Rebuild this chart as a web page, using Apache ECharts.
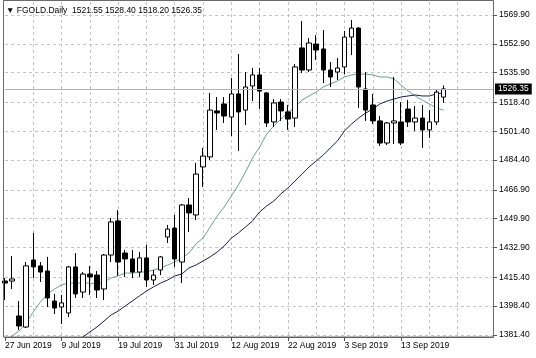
<!DOCTYPE html>
<html>
<head>
<meta charset="utf-8">
<script src="https://cdn.jsdelivr.net/npm/echarts@6/dist/echarts.min.js"></script>
<style>html,body{margin:0;padding:0;background:#fff}#c{width:536px;height:358px}</style>
</head>
<body>
<div id="c"></div>
<script>
const dates = ['27 Jun 2019','28 Jun 2019','1 Jul 2019','2 Jul 2019','3 Jul 2019','4 Jul 2019','5 Jul 2019','8 Jul 2019',
'9 Jul 2019','10 Jul 2019','11 Jul 2019','12 Jul 2019','15 Jul 2019','16 Jul 2019','17 Jul 2019','18 Jul 2019',
'19 Jul 2019','22 Jul 2019','23 Jul 2019','24 Jul 2019','25 Jul 2019','26 Jul 2019','29 Jul 2019','30 Jul 2019',
'31 Jul 2019','1 Aug 2019','2 Aug 2019','5 Aug 2019','6 Aug 2019','7 Aug 2019','8 Aug 2019','9 Aug 2019',
'12 Aug 2019','13 Aug 2019','14 Aug 2019','15 Aug 2019','16 Aug 2019','19 Aug 2019','20 Aug 2019','21 Aug 2019',
'22 Aug 2019','23 Aug 2019','26 Aug 2019','27 Aug 2019','28 Aug 2019','29 Aug 2019','30 Aug 2019','2 Sep 2019',
'3 Sep 2019','4 Sep 2019','5 Sep 2019','6 Sep 2019','9 Sep 2019','10 Sep 2019','11 Sep 2019','12 Sep 2019',
'13 Sep 2019','16 Sep 2019','17 Sep 2019','18 Sep 2019','19 Sep 2019','20 Sep 2019','23 Sep 2019'];
const emptySlots = 7;

const opens = [1413.2,1413.2,1392.6,1386.1,1425.6,1422.1,1419.1,1401.4,
1397.9,1394.4,1421.5,1406.7,1417.3,1416.7,1408.5,1428.5,
1448.6,1429.7,1426.2,1418.5,1426.8,1413.8,1419.7,1439.1,
1444.4,1424.4,1458.0,1452.1,1480.4,1486.3,1513.4,1517.5,
1509.8,1523.4,1513.9,1528.1,1534.6,1524.0,1506.9,1518.6,
1512.8,1509.2,1550.5,1537.5,1552.8,1549.9,1537.5,1536.3,
1539.3,1556.9,1562.2,1526.3,1516.9,1507.5,1494.5,1506.3,
1506.9,1514.5,1506.9,1509.2,1502.2,1506.9,1521.55];
const highs = [1415.0,1427.9,1401.4,1424.4,1441.5,1424.4,1427.4,1405.6,
1405.0,1422.1,1429.7,1418.5,1422.1,1419.1,1429.1,1450.3,
1455.0,1431.5,1431.5,1430.3,1434.4,1419.7,1427.9,1446.2,
1452.1,1458.6,1462.1,1482.7,1491.6,1524.0,1521.6,1521.6,
1532.8,1546.9,1536.3,1538.7,1538.7,1524.5,1520.4,1520.4,
1516.9,1541.0,1566.4,1556.4,1558.1,1561.1,1542.2,1544.6,
1560.5,1567.0,1562.8,1536.3,1523.4,1510.4,1506.9,1533.4,
1518.6,1519.8,1516.3,1516.9,1513.9,1526.3,1528.40];
const lows = [1402.0,1408.5,1384.4,1385.5,1415.0,1412.6,1397.9,1393.8,
1387.9,1392.0,1403.2,1403.2,1405.0,1403.2,1402.0,1424.4,
1416.2,1415.6,1415.0,1415.6,1409.7,1410.9,1416.7,1435.6,
1421.5,1412.0,1442.1,1449.1,1468.6,1484.5,1502.2,1506.3,
1498.6,1489.8,1505.1,1519.2,1514.5,1503.9,1503.9,1507.5,
1502.2,1503.9,1535.7,1536.3,1543.4,1529.8,1527.5,1531.6,
1535.1,1546.3,1515.1,1507.5,1505.7,1492.7,1493.3,1493.9,
1493.3,1503.9,1501.6,1491.6,1497.5,1505.1,1518.20];
const closes = [1412.0,1414.4,1386.7,1422.1,1421.5,1418.5,1403.2,1397.3,
1400.3,1421.5,1405.6,1417.3,1415.6,1407.9,1428.5,1448.0,
1424.4,1426.2,1418.5,1426.8,1413.8,1416.7,1427.4,1443.8,
1426.2,1458.0,1453.3,1476.2,1486.8,1513.9,1512.2,1510.4,
1523.4,1512.8,1527.5,1534.6,1525.1,1506.3,1518.1,1513.4,
1508.6,1539.3,1537.5,1553.4,1549.3,1537.5,1533.4,1538.7,
1556.9,1562.2,1527.5,1513.9,1507.5,1494.5,1506.3,1507.5,
1494.5,1506.9,1509.2,1502.2,1506.9,1524.5,1526.35];

const maFast = [1377.3,1380.8,1383.8,1388.5,1395.0,1400.8,1405.6,1408.5,
1410.9,1412.0,1412.0,1412.0,1412.0,1411.4,1412.6,1415.0,
1416.2,1417.9,1417.9,1418.5,1418.5,1419.7,1420.9,1422.6,
1424.4,1426.8,1429.7,1435.0,1438.5,1445.0,1451.5,1456.8,
1463.3,1469.8,1477.4,1485.7,1492.1,1499.8,1504.5,1508.6,
1512.2,1515.7,1519.8,1522.2,1524.5,1527.5,1529.3,1531.0,
1533.4,1534.6,1535.1,1535.1,1534.6,1533.4,1533.4,1532.2,
1528.7,1525.1,1522.2,1519.8,1517.5,1515.1,1513.9];
const maSlow = [null,null,null,null,null,null,null,null,
null,1373.7,1376.7,1380.2,1383.2,1386.1,1389.6,1393.2,
1395.5,1398.5,1401.4,1404.4,1407.3,1409.7,1412.0,1413.8,
1416.2,1417.3,1420.9,1422.6,1425.0,1427.4,1430.3,1433.8,
1438.5,1441.5,1445.0,1448.6,1453.9,1457.4,1460.3,1464.5,
1468.0,1472.1,1476.2,1480.4,1483.9,1487.4,1491.6,1495.7,
1501.6,1505.7,1509.2,1512.2,1514.5,1517.5,1519.2,1520.4,
1521.6,1522.2,1522.8,1522.2,1522.2,1523.4,1524.0];

const priceTicks = [1381.40,1398.40,1415.40,1432.90,1449.90,1466.90,1484.40,1501.40,1518.40,1535.90,1552.90,1569.90];
const symbolName = 'FGOLD.Daily';

const categories = dates.concat(new Array(emptySlots).fill(''));
const last = closes.length - 1;
const candleData = opens.map((o, i) => [o, closes[i], lows[i], highs[i]]);
const header = '\u25BC ' + symbolName + '  ' + opens[last].toFixed(2) + ' ' + highs[last].toFixed(2) + ' ' +
  lows[last].toFixed(2) + ' ' + closes[last].toFixed(2);

const FONT = 'Liberation Sans';
const chart = echarts.init(document.getElementById('c'), null, {renderer: 'canvas'});
chart.setOption({
  animation: false,
  backgroundColor: '#ffffff',
  grid: {left: 5, right: 43, top: 2, bottom: 21, containLabel: false},
  xAxis: {
    type: 'category',
    data: categories,
    boundaryGap: false,
    axisLine: {show: true, lineStyle: {color: '#555', width: 1}},
    axisTick: {show: true, length: 4, interval: (i) => i % 8 === 0 && i < dates.length, lineStyle: {color: '#555'}},
    axisLabel: {
      interval: (i) => i % 8 === 0 && i < dates.length,
      align: 'left', margin: 4, padding: [0, 0, 0, 0],
      fontFamily: FONT, fontSize: 8.5, color: '#000'
    },
    splitLine: {show: true, interval: (i) => i % 4 === 0 && i > 0 && i < 68,
      lineStyle: {color: '#c4c4c4', type: [3, 3], width: 1}}
  },
  yAxis: {
    type: 'value',
    position: 'right',
    min: 1380.22,
    max: 1577.56,
    axisLine: {show: true, lineStyle: {color: '#555', width: 1}},
    axisTick: {show: true, length: 4, customValues: priceTicks, lineStyle: {color: '#555'}},
    axisLabel: {customValues: priceTicks, margin: 6, fontFamily: FONT, fontSize: 8.5, color: '#000',
      formatter: (v) => v.toFixed(2)},
    splitLine: {show: true, lineStyle: {color: '#c4c4c4', type: [3, 3], width: 1}}
  },
  graphic: [
    {type: 'rect', shape: {x: 3.5, y: 0.5, width: 490, height: 336.5}, silent: true,
      style: {fill: 'none', stroke: '#6a6a6a', lineWidth: 1}, z: 100},
    {type: 'text', left: 6, top: 6, silent: true,
      style: {text: header, fill: '#000', font: '8.5px "' + FONT + '"'}, z: 100}
  ],
  series: [
    {
      type: 'line', data: maFast, symbol: 'none', smooth: false, clip: true,
      lineStyle: {color: '#6f9f8f', width: 1}, z: 2
    },
    {
      type: 'line', data: maSlow, symbol: 'none', smooth: false, clip: true, connectNulls: false,
      lineStyle: {color: '#1e1e4e', width: 1}, z: 2
    },
    {
      type: 'candlestick', data: candleData, barWidth: 5, clip: true, z: 3,
      itemStyle: {color: '#ffffff', color0: '#000000', borderColor: '#000000', borderColor0: '#000000', borderWidth: 1},
      markLine: {
        silent: true, symbol: ['none', 'none'], animation: false,
        lineStyle: {color: '#b4b4b4', type: 'solid', width: 1},
        label: {show: true, position: 'end', distance: 2, backgroundColor: '#000', color: '#fff',
          padding: [1, 3, 1, 3], fontFamily: FONT, fontSize: 8.5,
          formatter: (p) => Number(p.value).toFixed(2)},
        data: [{yAxis: closes[last]}]
      }
    }
  ]
});
</script>
</body>
</html>
